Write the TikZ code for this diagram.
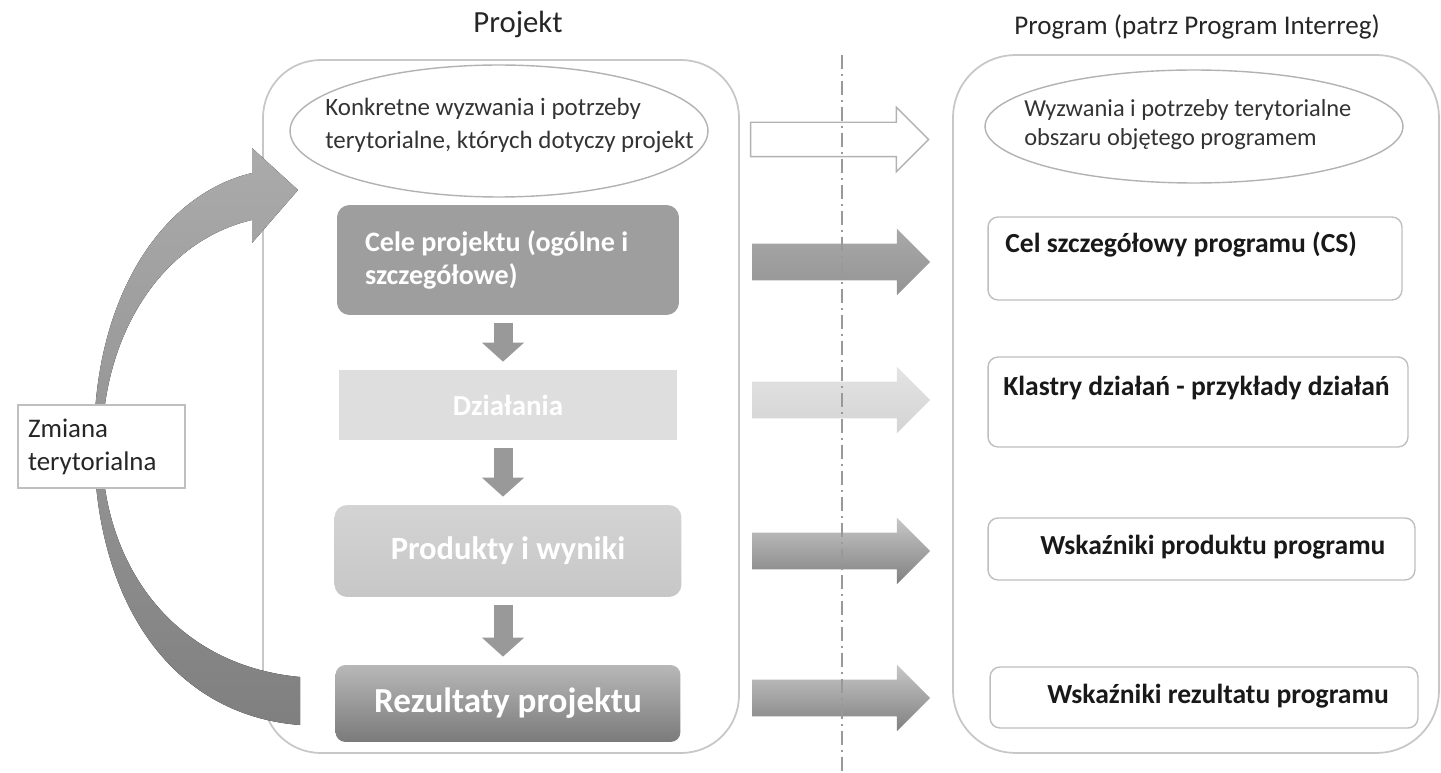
\documentclass[tikz,border=0pt]{standalone}
\usepackage{fontspec}
\setmainfont{Carlito}
\usetikzlibrary{shapes.geometric,shapes.arrows,arrows.meta}

\begin{document}
\begin{tikzpicture}[
  x=0.02cm, y=-0.02cm,
  frame/.style={draw=black!22, line width=1pt, rounded corners=1.15cm},
  need/.style={ellipse, draw=black!30, line width=.8pt, minimum width=8.36cm},
  needtext/.style={align=left, text=black!80, inner sep=0pt, anchor=west},
  stage/.style={rounded corners=0.25cm, text=white, inner sep=0pt},
  goal/.style={draw=black!25, line width=.8pt, rounded corners=0.2cm},
  goaltext/.style={anchor=base west, inner sep=0pt, text=black!90,
    font=\fontsize{15.7}{18}\selectfont\bfseries},
  flow/.style={single arrow, single arrow head extend=0.3cm, inner xsep=0pt, inner ysep=0.36cm,
    minimum height=3.56cm},
  down/.style={line width=0.38cm, black!40, -{Triangle[width=0.82cm,length=0.38cm]},
    shorten <=0.16cm, shorten >=0.16cm},
]
\useasboundingbox (0,0) rectangle (1441,773);

\node (projtitle) [anchor=base, font=\fontsize{17.5}{20}\selectfont, text=black!85] at (518,33) {Projekt};
\node (progtitle) [anchor=base, font=\fontsize{15.4}{18}\selectfont, text=black!85] at (1197,35) {Program (patrz Program Interreg)};

\node (lbox) [frame, minimum width=9.52cm, minimum height=13.86cm] at (501,406.5) {};
\node (rbox) [frame, minimum width=9.72cm, minimum height=13.96cm, rounded corners=1.25cm] at (1196,404) {};

\node (needL) [need, minimum height=2.64cm] at (499,131) {};
\node (needLtxt) [needtext, font=\fontsize{14.2}{18.8}\selectfont] at (325,125)
  {Konkretne wyzwania i potrzeby\\terytorialne, których dotyczy projekt};
\node (needR) [need, minimum height=2.26cm] at (1194,126.5) {};
\node (needRtxt) [needtext, font=\fontsize{13.9}{16.5}\selectfont] at (1024,125)
  {Wyzwania i potrzeby terytorialne\\obszaru objętego programem};

\node (cele) [stage, fill=black!38, minimum width=6.84cm, minimum height=2.2cm,
  text width=5.72cm, align=flush left, font=\fontsize{16}{18.8}\selectfont\bfseries] at (508,260)
  {Cele projektu (ogólne i\\szczegółowe)};
\node (dzial) [stage, rounded corners=0pt, fill=black!13, minimum width=6.76cm, minimum height=1.4cm,
  font=\fontsize{16.5}{19}\selectfont\bfseries] at (508,405) {Działania};
\node (prod) [stage, top color=black!17, bottom color=black!22, minimum width=6.94cm, minimum height=1.84cm,
  font=\fontsize{18.5}{21}\selectfont\bfseries] at (508,551) {Produkty i wyniki};
\node (rez) [stage, rounded corners=0.2cm, top color=black!28, bottom color=black!52, minimum width=6.9cm,
  minimum height=1.54cm, font=\fontsize{20}{23}\selectfont\bfseries] at (508,703.5) {Rezultaty projektu};

\draw[down] ([xshift=-0.1cm]cele.south) -- ([xshift=-0.1cm]dzial.north);
\draw[down] ([xshift=-0.1cm]dzial.south) -- ([xshift=-0.1cm]prod.north);
\draw[down] ([xshift=-0.1cm]prod.south) -- ([xshift=-0.1cm]rez.north);

\node (cs) [goal, minimum width=8.28cm, minimum height=1.66cm] at (1195,258.5) {};
\node (cstxt) [goaltext] at (1005,253) {Cel szczegółowy programu (CS)};
\node (kl) [goal, minimum width=8.4cm, minimum height=1.8cm] at (1198,402) {};
\node (kltxt) [goaltext] at (1003,396) {Klastry działań - przykłady działań};
\node (wp) [goal, minimum width=8.54cm, minimum height=1.24cm] at (1201.5,549) {};
\node (wptxt) [goaltext] at (1040,555) {Wskaźniki produktu programu};
\node (wr) [goal, minimum width=8.56cm, minimum height=1.22cm] at (1204,697.5) {};
\node (wrtxt) [goaltext] at (1047,703) {Wskaźniki rezultatu programu};

\fill[top color=black!33, bottom color=black!50]
  (300,725) .. controls (170,715) and (95,600) .. (94,445)
  .. controls (93,300) and (160,195) .. (252,173)
  -- (252,148) -- (298,190) -- (252,243) -- (252,220)
  .. controls (165,240) and (103,330) .. (102,445)
  .. controls (101,560) and (170,665) .. (300,677) -- cycle;
\node (change) [draw=black!25, fill=white, line width=.8pt, minimum width=3.34cm, minimum height=1.66cm,
  text width=2.94cm, align=flush left, inner xsep=0.2cm, text=black!85,
  font=\fontsize{15.3}{18.8}\selectfont] at (101.5,446.5) {Zmiana\\terytorialna};

\node (flow0) [flow, draw=black!30, fill=white, line width=.8pt, inner ysep=0.33cm] at (831,139.5) {};
\foreach \y/\c/\d [count=\i] in {262/34/42, 400/11/17, 551/22/50, 698/22/50}
  \node (flow\i) [flow, top color=black!\c, bottom color=black!\d] at (832,\y) {};

\draw[black!40, line width=1.2pt, dash pattern=on 0.28cm off 0.1cm on 0.04cm off 0.1cm]
  (842,55) -- (842,773);

\end{tikzpicture}
\end{document}
